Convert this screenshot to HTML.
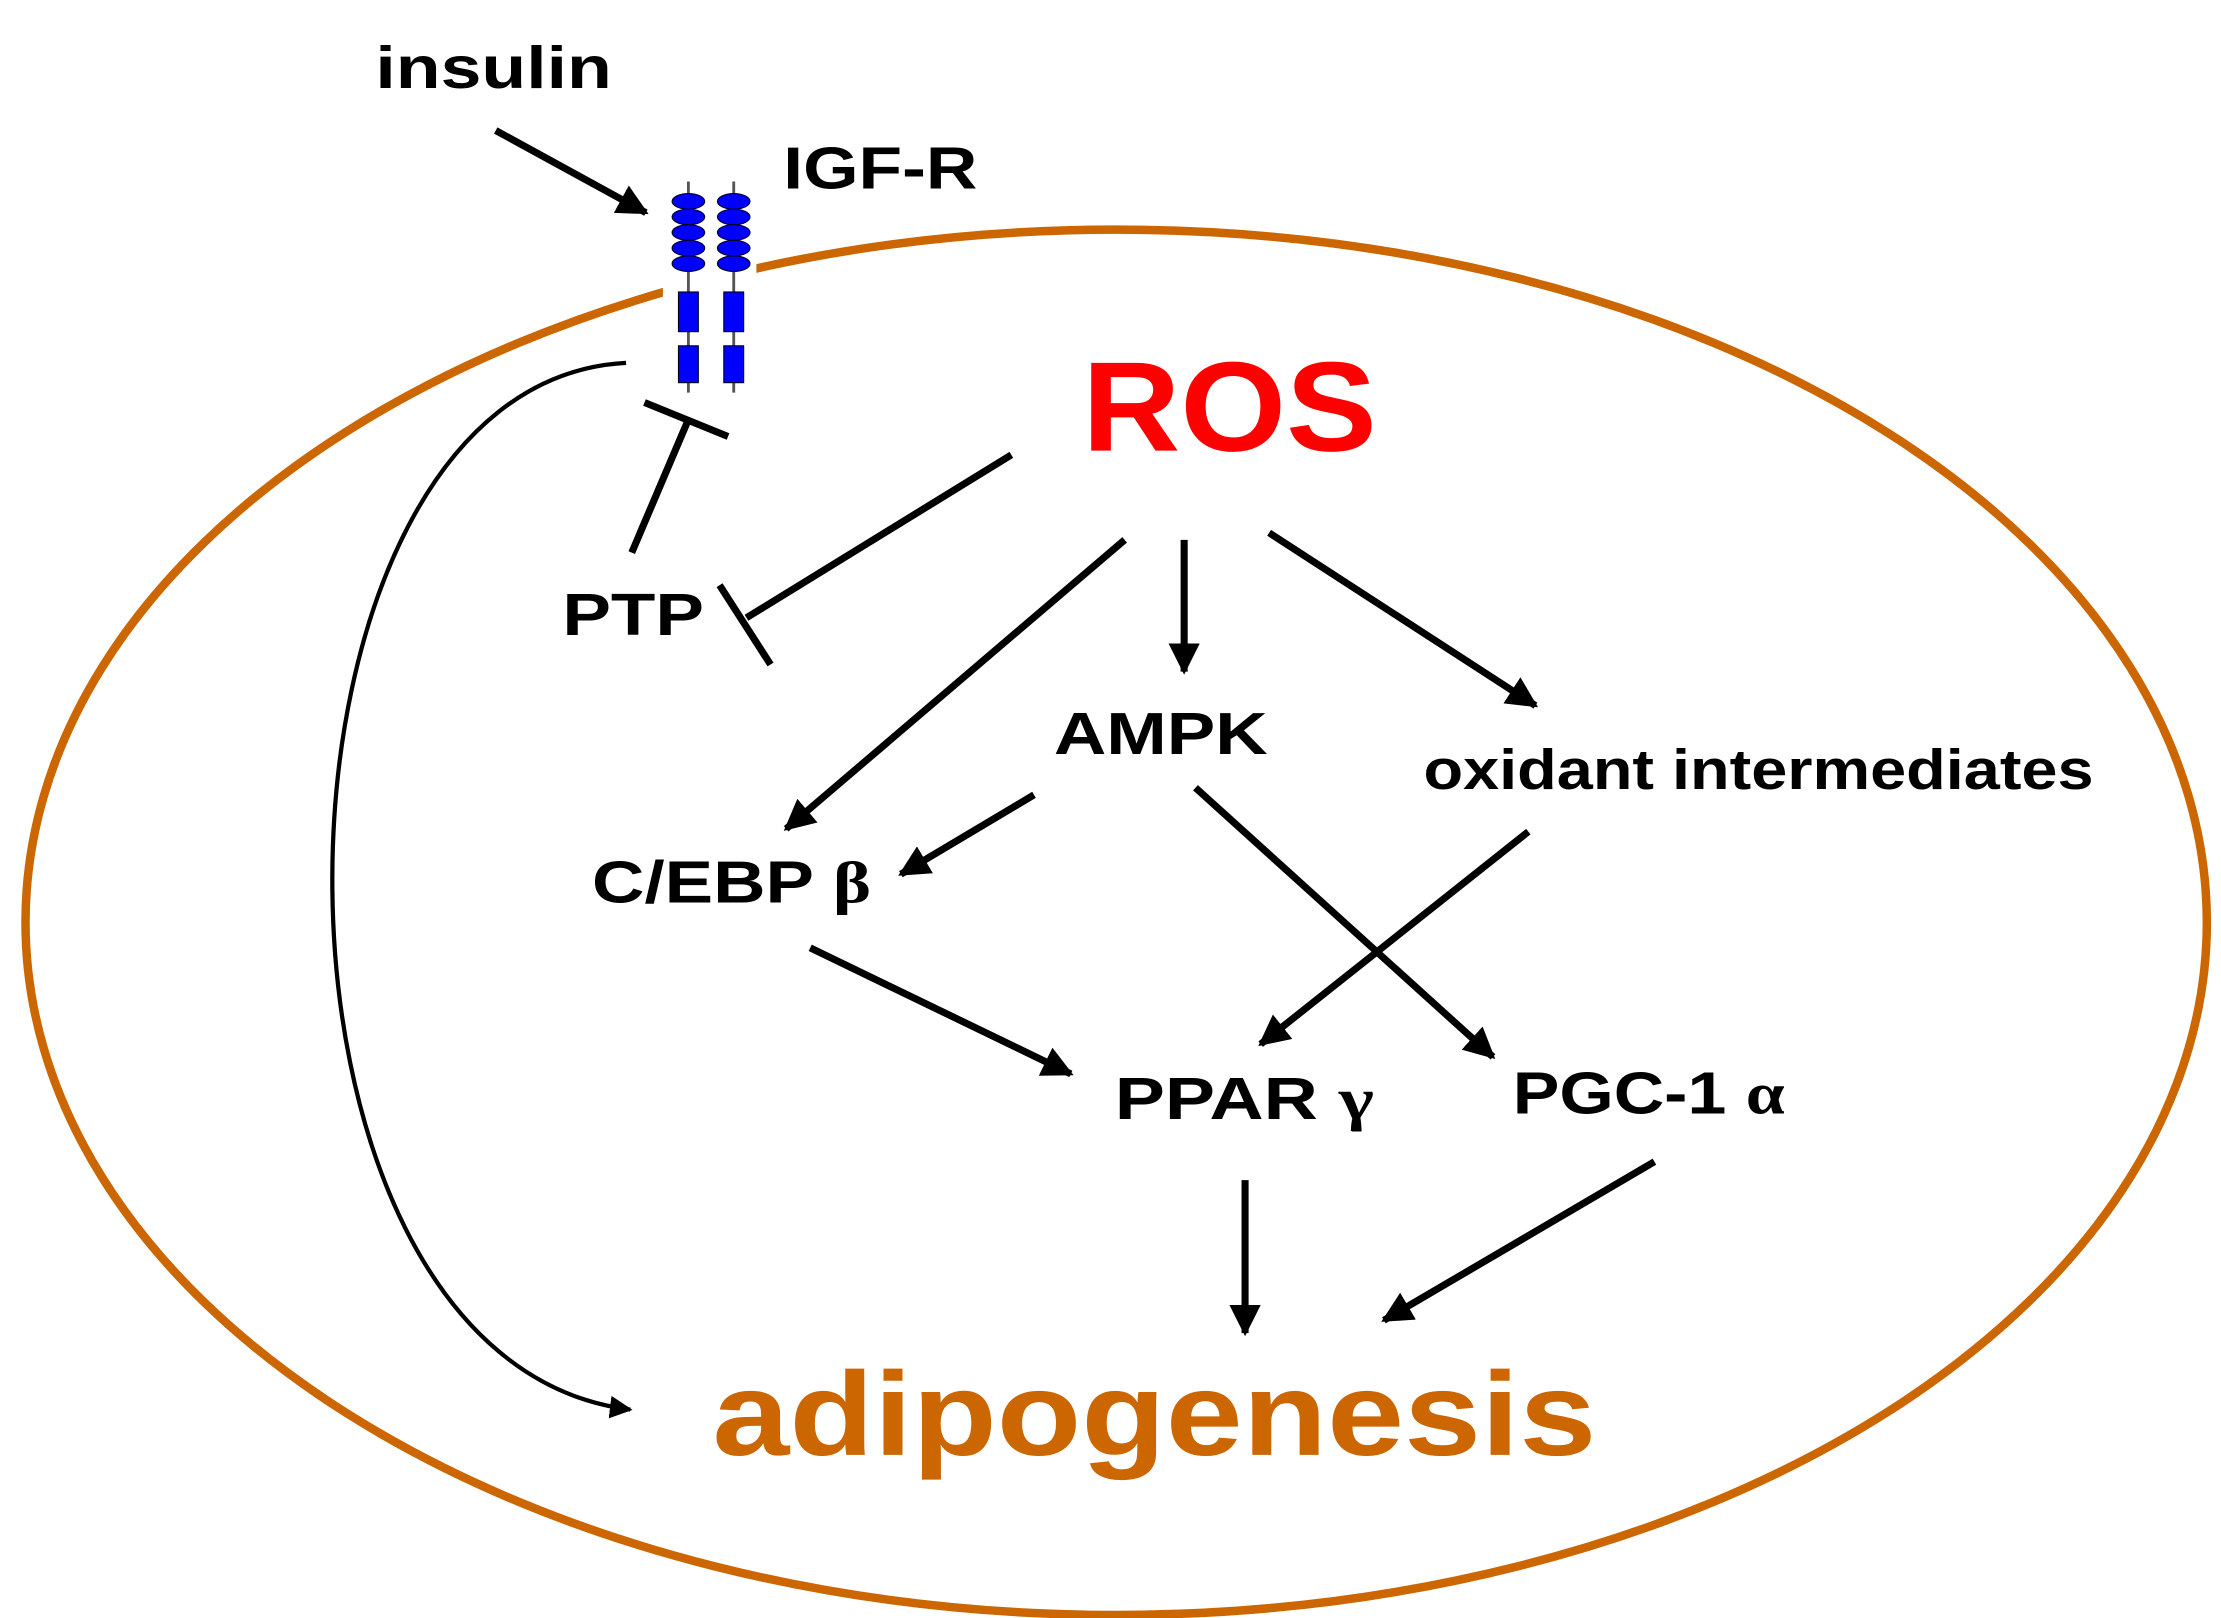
<!DOCTYPE html>
<html><head><style>html,body{margin:0;padding:0;background:#fff}svg{display:block}</style></head>
<body>
<svg width="2221" height="1618" viewBox="0 0 1568 1142" xmlns="http://www.w3.org/2000/svg" font-family="Liberation Sans, Arial, sans-serif" font-weight="bold">
<defs>
<marker id="ah" viewBox="0 0 10 10" refX="9" refY="5" markerWidth="22" markerHeight="22" markerUnits="userSpaceOnUse" orient="auto"><path d="M0,0 L10,5 L0,10 z" fill="#000"/></marker>
<marker id="ahs" viewBox="0 0 10 10" refX="9" refY="5" markerWidth="16" markerHeight="16" markerUnits="userSpaceOnUse" orient="auto"><path d="M0,0 L10,5 L0,10 z" fill="#000"/></marker>
</defs>
<ellipse cx="788" cy="651" rx="770" ry="489" fill="none" stroke="#cc6600" stroke-width="6"/>
<g>
<rect x="468" y="126" width="66" height="155" fill="#fff"/>
<line x1="486" y1="128" x2="486" y2="277" stroke="#555" stroke-width="2"/>
<line x1="518" y1="128" x2="518" y2="277" stroke="#555" stroke-width="2"/>
<g fill="#0000ff" stroke="#000022" stroke-width="0.8">
<ellipse cx="486" cy="142" rx="11.5" ry="5.5"/><ellipse cx="486" cy="153" rx="11.5" ry="5.5"/><ellipse cx="486" cy="164" rx="11.5" ry="5.5"/><ellipse cx="486" cy="175" rx="11.5" ry="5.5"/><ellipse cx="486" cy="186" rx="11.5" ry="5.5"/>
<ellipse cx="518" cy="142" rx="11.5" ry="5.5"/><ellipse cx="518" cy="153" rx="11.5" ry="5.5"/><ellipse cx="518" cy="164" rx="11.5" ry="5.5"/><ellipse cx="518" cy="175" rx="11.5" ry="5.5"/><ellipse cx="518" cy="186" rx="11.5" ry="5.5"/>
<rect x="479" y="206" width="14" height="28"/><rect x="479" y="244" width="14" height="26"/>
<rect x="511" y="206" width="14" height="28"/><rect x="511" y="244" width="14" height="26"/>
</g>
</g>
<text x="265" y="62" font-size="42" textLength="167" lengthAdjust="spacingAndGlyphs">insulin</text>
<text x="553" y="133" font-size="42" textLength="137" lengthAdjust="spacingAndGlyphs">IGF-R</text>
<text x="764" y="318" font-size="90" fill="#ff0000" textLength="208" lengthAdjust="spacingAndGlyphs">ROS</text>
<text x="397" y="448" font-size="42" textLength="100" lengthAdjust="spacingAndGlyphs">PTP</text>
<text x="744" y="532" font-size="42" textLength="151" lengthAdjust="spacingAndGlyphs">AMPK</text>
<text x="1005" y="557" font-size="40" textLength="473" lengthAdjust="spacingAndGlyphs">oxidant intermediates</text>
<text x="418" y="637" font-size="42" textLength="197" lengthAdjust="spacingAndGlyphs">C/EBP <tspan font-family="Liberation Serif, serif">β</tspan></text>
<text x="787" y="790" font-size="42" textLength="183" lengthAdjust="spacingAndGlyphs">PPAR <tspan font-family="Liberation Serif, serif">γ</tspan></text>
<text x="1068" y="786" font-size="42" textLength="192" lengthAdjust="spacingAndGlyphs">PGC-1 <tspan font-family="Liberation Serif, serif">α</tspan></text>
<text x="503" y="1027" font-size="84" fill="#cc6600" textLength="624" lengthAdjust="spacingAndGlyphs">adipogenesis</text>
<g stroke="#000" stroke-width="5" fill="none">
<line x1="350" y1="92" x2="456" y2="150" marker-end="url(#ah)"/>
<line x1="446" y1="390" x2="486" y2="296"/>
<line x1="455" y1="284" x2="514" y2="308"/>
<line x1="714" y1="321" x2="527" y2="436"/>
<line x1="508" y1="413" x2="544" y2="469"/>
<line x1="794" y1="381" x2="555" y2="585" marker-end="url(#ah)"/>
<line x1="836" y1="381" x2="836" y2="474" marker-end="url(#ah)"/>
<line x1="896" y1="376" x2="1084" y2="498" marker-end="url(#ah)"/>
<line x1="730" y1="561" x2="636" y2="617" marker-end="url(#ah)"/>
<line x1="572" y1="669" x2="756" y2="758" marker-end="url(#ah)"/>
<line x1="844" y1="556" x2="1054" y2="746" marker-end="url(#ah)"/>
<line x1="1079" y1="587" x2="890" y2="737" marker-end="url(#ah)"/>
<line x1="879" y1="833" x2="879" y2="941" marker-end="url(#ah)"/>
<line x1="1168" y1="820" x2="977" y2="932" marker-end="url(#ah)"/>
</g>
<path d="M442,256 C170,270 160,960 445,995" stroke="#000" stroke-width="3" fill="none" marker-end="url(#ahs)"/>
</svg>
</body></html>
